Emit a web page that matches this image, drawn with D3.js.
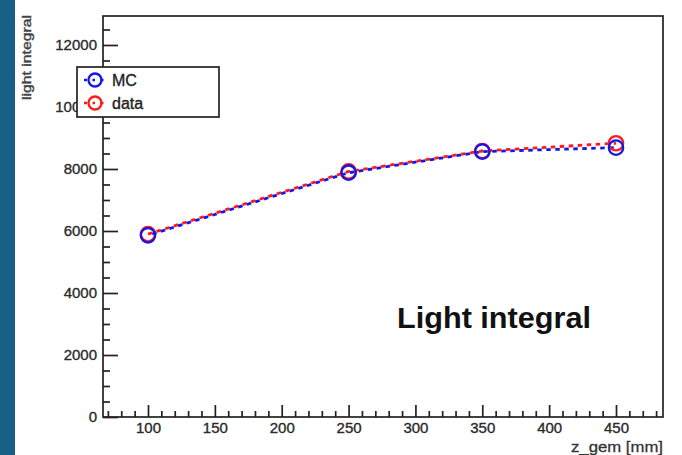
<!DOCTYPE html>
<html><head><meta charset="utf-8">
<script src="https://cdn.jsdelivr.net/npm/d3@7"></script>
<style>
html,body{margin:0;padding:0;background:#fff;}
svg{display:block;}
text{font-family:"Liberation Sans",Arial,Helvetica,sans-serif;}
</style></head>
<body>
<script>
// ---- data ----
const zGem = [100, 250, 350, 450];
const mcValues = [5860, 7880, 8560, 8690];
const dataValues = [5900, 7920, 8580, 8830];
const seriesNames = ["MC", "data"];
const xMajorTicks = [100, 150, 200, 250, 300, 350, 400, 450];
const yMajorTicks = [0, 2000, 4000, 6000, 8000, 10000, 12000];
const xTitle = "z_gem [mm]";
const yTitle = "light integral";
const annotation = "Light integral";

const W = 682, H = 455;
const L = 103, R = 663, T = 16, B = 417;

const svg = d3.select("body").append("svg").attr("width", W).attr("height", H);
svg.append("rect").attr("x",0).attr("y",0).attr("width",W).attr("height",H).attr("fill","#fff");
svg.append("rect").attr("x",0).attr("y",0).attr("width",15).attr("height",H).attr("fill","#185f86");

const x = d3.scaleLinear().domain([66.35, 485.15]).range([L, R]);
const y = d3.scaleLinear().domain([0, 12935]).range([B, T]);

const xMinor = d3.range(70, 485, 10).filter(v => !xMajorTicks.includes(v));
const yMinor = d3.range(0, 12935, 500).filter(v => !yMajorTicks.includes(v));

// frame
svg.append("rect").attr("x",L).attr("y",T).attr("width",R-L).attr("height",B-T)
  .attr("fill","none").attr("stroke","#222").attr("stroke-width",1.7);

const txtStyle = sel => sel.attr("font-size",15).attr("fill","#2a2a2a")
  .attr("stroke","#2a2a2a").attr("stroke-width",0.35)
  .attr("font-family",'"Liberation Sans",Arial,sans-serif');

// y axis
const gy = svg.append("g").attr("transform",`translate(${L},0)`);
gy.call(d3.axisLeft(y).tickValues(yMajorTicks).tickSize(-15).tickPadding(6).tickFormat(d3.format("d")));
gy.select(".domain").remove();
gy.selectAll("line").attr("stroke","#222").attr("stroke-width",1.7);
gy.selectAll("text").call(txtStyle);
const gy2 = svg.append("g").attr("transform",`translate(${L},0)`);
gy2.call(d3.axisLeft(y).tickValues(yMinor).tickSize(-7).tickFormat(""));
gy2.select(".domain").remove();
gy2.selectAll("line").attr("stroke","#222").attr("stroke-width",1.7);

// x axis
const gx = svg.append("g").attr("transform",`translate(0,${B})`);
gx.call(d3.axisBottom(x).tickValues(xMajorTicks).tickSize(-12).tickPadding(5).tickFormat(d3.format("d")));
gx.select(".domain").remove();
gx.selectAll("line").attr("stroke","#222").attr("stroke-width",1.7);
gx.selectAll("text").call(txtStyle);
const gx2 = svg.append("g").attr("transform",`translate(0,${B})`);
gx2.call(d3.axisBottom(x).tickValues(xMinor).tickSize(-6).tickFormat(""));
gx2.select(".domain").remove();
gx2.selectAll("line").attr("stroke","#222").attr("stroke-width",1.7);

// axis titles
svg.append("text").attr("x",R).attr("y",452).attr("text-anchor","end")
  .attr("font-size",15).attr("fill","#333").attr("stroke","#333").attr("stroke-width",0.3)
  .attr("textLength",92).attr("lengthAdjust","spacingAndGlyphs")
  .text(xTitle);
svg.append("text").attr("transform","translate(31,15) rotate(-90)").attr("text-anchor","end")
  .attr("font-size",13).attr("fill","#444").attr("stroke","#444").attr("stroke-width",0.4)
  .attr("textLength",85).attr("lengthAdjust","spacingAndGlyphs")
  .text(yTitle);

// series
const series = [
  {name: seriesNames[1], values: dataValues, color: "#ff1a1a", offset: 0},
  {name: seriesNames[0], values: mcValues, color: "#1515e6", offset: 4.5}
];
const line = d3.line().x((d,i)=>x(zGem[i])).y(d=>y(d));
series.forEach(s => {
  svg.append("path").datum(s.values).attr("d", line).attr("fill","none")
    .attr("stroke", s.color).attr("stroke-width",2.8)
    .attr("stroke-dasharray","4.5,4.5").attr("stroke-dashoffset", s.offset);
});
series.forEach(s => {
  svg.selectAll(null).data(s.values).enter().append("circle")
    .attr("cx",(d,i)=>x(zGem[i])).attr("cy",d=>y(d)).attr("r",7.2)
    .attr("fill","none").attr("stroke",s.color).attr("stroke-width",2.3);
});

// legend
const lg = svg.append("g");
lg.append("rect").attr("x",77).attr("y",67).attr("width",142).attr("height",50)
  .attr("fill","#fff").attr("stroke","#222").attr("stroke-width",1.7);
const legItems = [
  {name: seriesNames[0], color: "#1515e6", cy: 80},
  {name: seriesNames[1], color: "#ff1a1a", cy: 103}
];
legItems.forEach(it => {
  lg.append("line").attr("x1",84).attr("x2",106).attr("y1",it.cy).attr("y2",it.cy)
    .attr("stroke",it.color).attr("stroke-width",2.4).attr("stroke-dasharray","3,5.5,2.5,5.5,3");
  lg.append("circle").attr("cx",95).attr("cy",it.cy).attr("r",6.5)
    .attr("fill","none").attr("stroke",it.color).attr("stroke-width",2.3);
  lg.append("text").attr("x",112).attr("y",it.cy+6).attr("font-size",16).attr("fill","#222")
    .attr("stroke","#222").attr("stroke-width",0.35)
    .text(it.name);
});

// annotation
svg.append("text").attr("x",397).attr("y",328).attr("font-family","Lato, 'Open Sans', sans-serif")
  .attr("font-weight","bold").attr("font-size",30).attr("fill","#111")
  .attr("textLength",194).attr("lengthAdjust","spacingAndGlyphs").text(annotation);
</script>
</body></html>
